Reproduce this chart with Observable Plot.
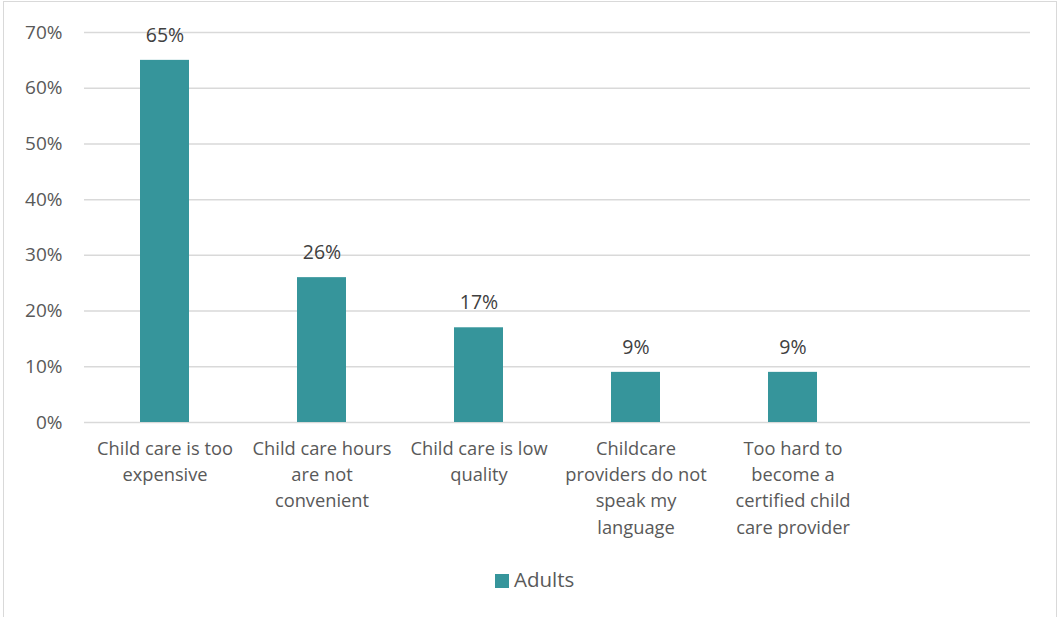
<!DOCTYPE html>
<html>
<head>
<meta charset="utf-8">
<script src="https://cdn.jsdelivr.net/npm/d3@7"></script>
<script src="https://cdn.jsdelivr.net/npm/@observablehq/plot@0.6"></script>
<style>
  html, body { margin: 0; padding: 0; background: #fff; }
  #wrap { position: relative; width: 1059px; height: 617px; overflow: hidden; }
  #frame { position: absolute; left: 3px; top: 1px; width: 1054px; height: 640px; border: 1px solid #d9d9d9; box-sizing: border-box; }
  #chart { position: absolute; left: 0; top: 0; }
  #legend { position: absolute; top: 565px; left: 495px; font-family: "Open Sans", sans-serif; font-size: 20.5px; color: #595959; white-space: nowrap; }
  #legend .sw { display: inline-block; width: 14px; height: 14px; background: #36959b; margin-right: 5px; vertical-align: -1px; }
</style>
</head>
<body>
<div id="wrap">
  <div id="frame"></div>
  <div id="chart"></div>
  <div id="legend"><span class="sw"></span>Adults</div>
</div>
<script>
const categories = [
  "Child care is too\nexpensive",
  "Child care hours\nare not\nconvenient",
  "Child care is low\nquality",
  "Childcare\nproviders do not\nspeak my\nlanguage",
  "Too hard to\nbecome a\ncertified child\ncare provider"
];
const values = [0.65, 0.26, 0.17, 0.09, 0.09];
const yTicks = [0, 0.1, 0.2, 0.3, 0.4, 0.5, 0.6, 0.7];
const seriesName = "Adults";
const barColor = "#36959b";

const data = categories.map((c, i) => ({category: c, value: values[i], series: seriesName}));
const domain = categories.concat([" "]);

const chart = Plot.plot({
  width: 1059,
  height: 560,
  marginLeft: 84,
  marginRight: 29,
  marginTop: 32,
  marginBottom: 138,
  style: {fontFamily: "'Open Sans', sans-serif", fontSize: "18px", color: "#595959", background: "transparent", overflow: "visible"},
  x: {domain, paddingInner: 0.69, paddingOuter: 0.345, label: null},
  y: {domain: [0, 0.7], label: null},
  marks: [
    Plot.gridY(yTicks, {stroke: "#d9d9d9", strokeOpacity: 1, strokeWidth: 1.5}),
    Plot.barY(data, {x: "category", y: "value", fill: barColor}),
    Plot.text(data, {x: "category", y: "value", text: d => Math.round(d.value * 100) + "%", dy: -25, fill: "#404040", fontSize: 19.5}),
    Plot.axisY(yTicks, {tickSize: 0, tickPadding: 22, tickFormat: d => Math.round(d * 100) + "%", fontSize: 19}),
    Plot.axisX({tickSize: 0, tickPadding: 14, lineHeight: 1.43, fontSize: 18.3, tickFormat: d => d.trim()})
  ]
});
document.getElementById("chart").appendChild(chart);
</script>
</body>
</html>
